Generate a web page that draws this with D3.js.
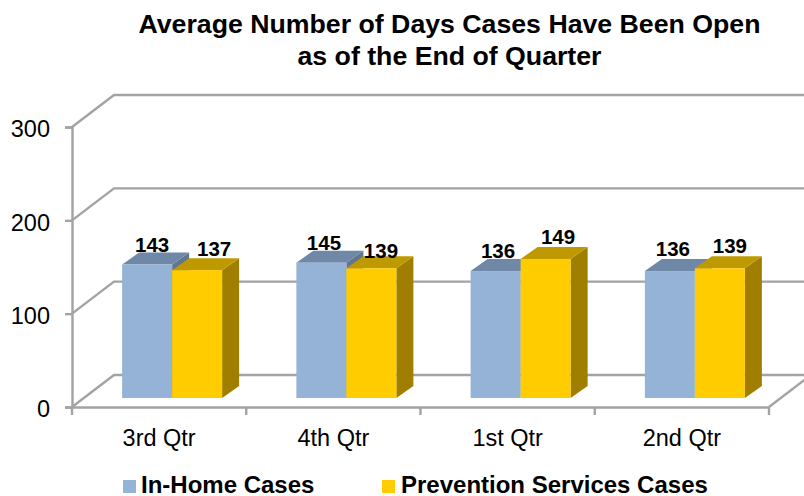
<!DOCTYPE html>
<html>
<head>
<meta charset="utf-8">
<script src="https://cdn.jsdelivr.net/npm/d3@7"></script>
<style>
  html, body { margin: 0; padding: 0; background: #fff; overflow: hidden; }
  text { font-family: "Liberation Sans", Arial, sans-serif; fill: #000; }
</style>
</head>
<body>
<div id="chart"></div>
<script>
const quarters = ['3rd Qtr', '4th Qtr', '1st Qtr', '2nd Qtr'];
const seriesNames = ['In-Home Cases', 'Prevention Services Cases'];
const inHome = [143, 145, 136, 136];
const prevention = [137, 139, 149, 139];
const yTicks = [0, 100, 200, 300];
const titleLines = ['Average Number of Days Cases Have Been Open', 'as of the End of Quarter'];

const width = 804, height = 496;
const gridColor = '#a3a3a3';
// fill colours per series: front, top, side
const fills = [
  { front: '#95b3d7', top: '#7088a8', side: '#5f7590' },
  { front: '#ffcc00', top: '#bf9900', side: '#a07f00' }
];

// 3d offsets: whole chart depth, bar depth, and where bars sit on the floor
const wall = { dx: 42, dy: -32 };
const barDepth = { dx: 17, dy: -12 };
const barShift = { dx: 13, dy: -9 };

// the value labels were dragged by hand in the original, so each has its own nudge
const labelNudge = [
  [[5, -12.5], [2.6, -12.7], [2.4, -13], [3, -15]],
  [[17, -14], [9.6, -10.3], [12.4, -15], [10, -15.3]]
];

let svg = d3.select('#chart').append('svg')
  .attr('width', width).attr('height', height);

let x = d3.scaleBand().domain(quarters).range([72, 769]);
let y = d3.scaleLinear().domain([0, 300]).range([407, 127]);
let xInner = d3.scaleBand().domain(seriesNames)
  .range([(x.bandwidth() - 100) / 2, (x.bandwidth() + 100) / 2]);

// title
svg.append('g').selectAll('text').data(titleLines).join('text')
  .attr('x', 449.5).attr('y', (d, i) => 33 + i * 32)
  .attr('text-anchor', 'middle')
  .style('font-size', '26.7px').style('font-weight', 'bold')
  .text(d => d);

// back wall lines and side wall diagonals
let grid = svg.append('g').attr('fill', 'none')
  .attr('stroke', gridColor).attr('stroke-width', 2.4);
grid.selectAll('path.wall').data(yTicks).join('path').classed('wall', true)
  .attr('d', d => d3.line()([
    [x.range()[0], y(d)],
    [x.range()[0] + wall.dx, y(d) + wall.dy],
    [width + 2, y(d) + wall.dy]
  ]));
grid.append('path')
  .attr('d', d3.line()([
    [x.range()[1], y(0)],
    [x.range()[1] + wall.dx, y(0) + wall.dy]
  ]));

// axes
let yAxis = svg.append('g').attr('transform', 'translate(72,0)')
  .call(d3.axisLeft(y).tickValues(yTicks).tickSize(7).tickPadding(15));
yAxis.selectAll('text').style('font-size', '23.5px').attr('dy', '0.42em');
let xAxis = svg.append('g').attr('transform', 'translate(0,407)')
  .call(d3.axisBottom(x).tickSize(0).tickPadding(22));
xAxis.selectAll('text').style('font-size', '23.5px');
svg.selectAll('.domain, .tick line').attr('stroke', gridColor).attr('stroke-width', 2.4);

// tick marks under the floor sit on band edges
svg.append('g').selectAll('line')
  .data(quarters.map(q => x(q)).concat(x.range()[1])).join('line')
  .attr('x1', d => d).attr('x2', d => d)
  .attr('y1', y(0)).attr('y2', y(0) + 8)
  .attr('stroke', gridColor).attr('stroke-width', 2.4);

// bars
let barWidth = xInner.bandwidth();
[inHome, prevention].forEach((values, s) => {
  let g = svg.append('g').selectAll('g').data(values).join('g')
    .attr('transform', (d, i) =>
      'translate(' + (x(quarters[i]) + xInner(seriesNames[s]) + barShift.dx) + ',' + barShift.dy + ')');
  g.append('path').attr('fill', fills[s].side)
    .attr('d', d => d3.line()([
      [barWidth, y(d)], [barWidth + barDepth.dx, y(d) + barDepth.dy],
      [barWidth + barDepth.dx, y(0) + barDepth.dy], [barWidth, y(0)]
    ]) + 'Z');
  g.append('path').attr('fill', fills[s].top)
    .attr('d', d => d3.line()([
      [0, y(d)], [barDepth.dx, y(d) + barDepth.dy],
      [barWidth + barDepth.dx, y(d) + barDepth.dy], [barWidth, y(d)]
    ]) + 'Z');
  g.append('rect').attr('fill', fills[s].front)
    .attr('x', 0).attr('y', d => y(d))
    .attr('width', barWidth).attr('height', d => y(0) - y(d));
});

// value labels go on top so the neighbouring bar does not cover them
[inHome, prevention].forEach((values, s) => {
  svg.append('g').selectAll('text').data(values).join('text')
    .attr('x', (d, i) => x(quarters[i]) + xInner(seriesNames[s]) + barShift.dx + barWidth / 2 + labelNudge[s][i][0])
    .attr('y', (d, i) => y(d) + barShift.dy + labelNudge[s][i][1])
    .attr('text-anchor', 'middle')
    .style('font-size', '20.5px').style('font-weight', 'bold')
    .text(d => d);
});

// legend
let legend = svg.append('g').selectAll('g').data(seriesNames).join('g')
  .attr('transform', (d, i) => 'translate(' + (i ? 382 : 123) + ',480)');
legend.append('rect').attr('width', 13).attr('height', 13)
  .attr('fill', (d, i) => fills[i].front);
legend.append('text').attr('x', (d, i) => i ? 19 : 18).attr('y', 13)
  .style('font-size', '24px').style('font-weight', 'bold')
  .text(d => d);
</script>
</body>
</html>
